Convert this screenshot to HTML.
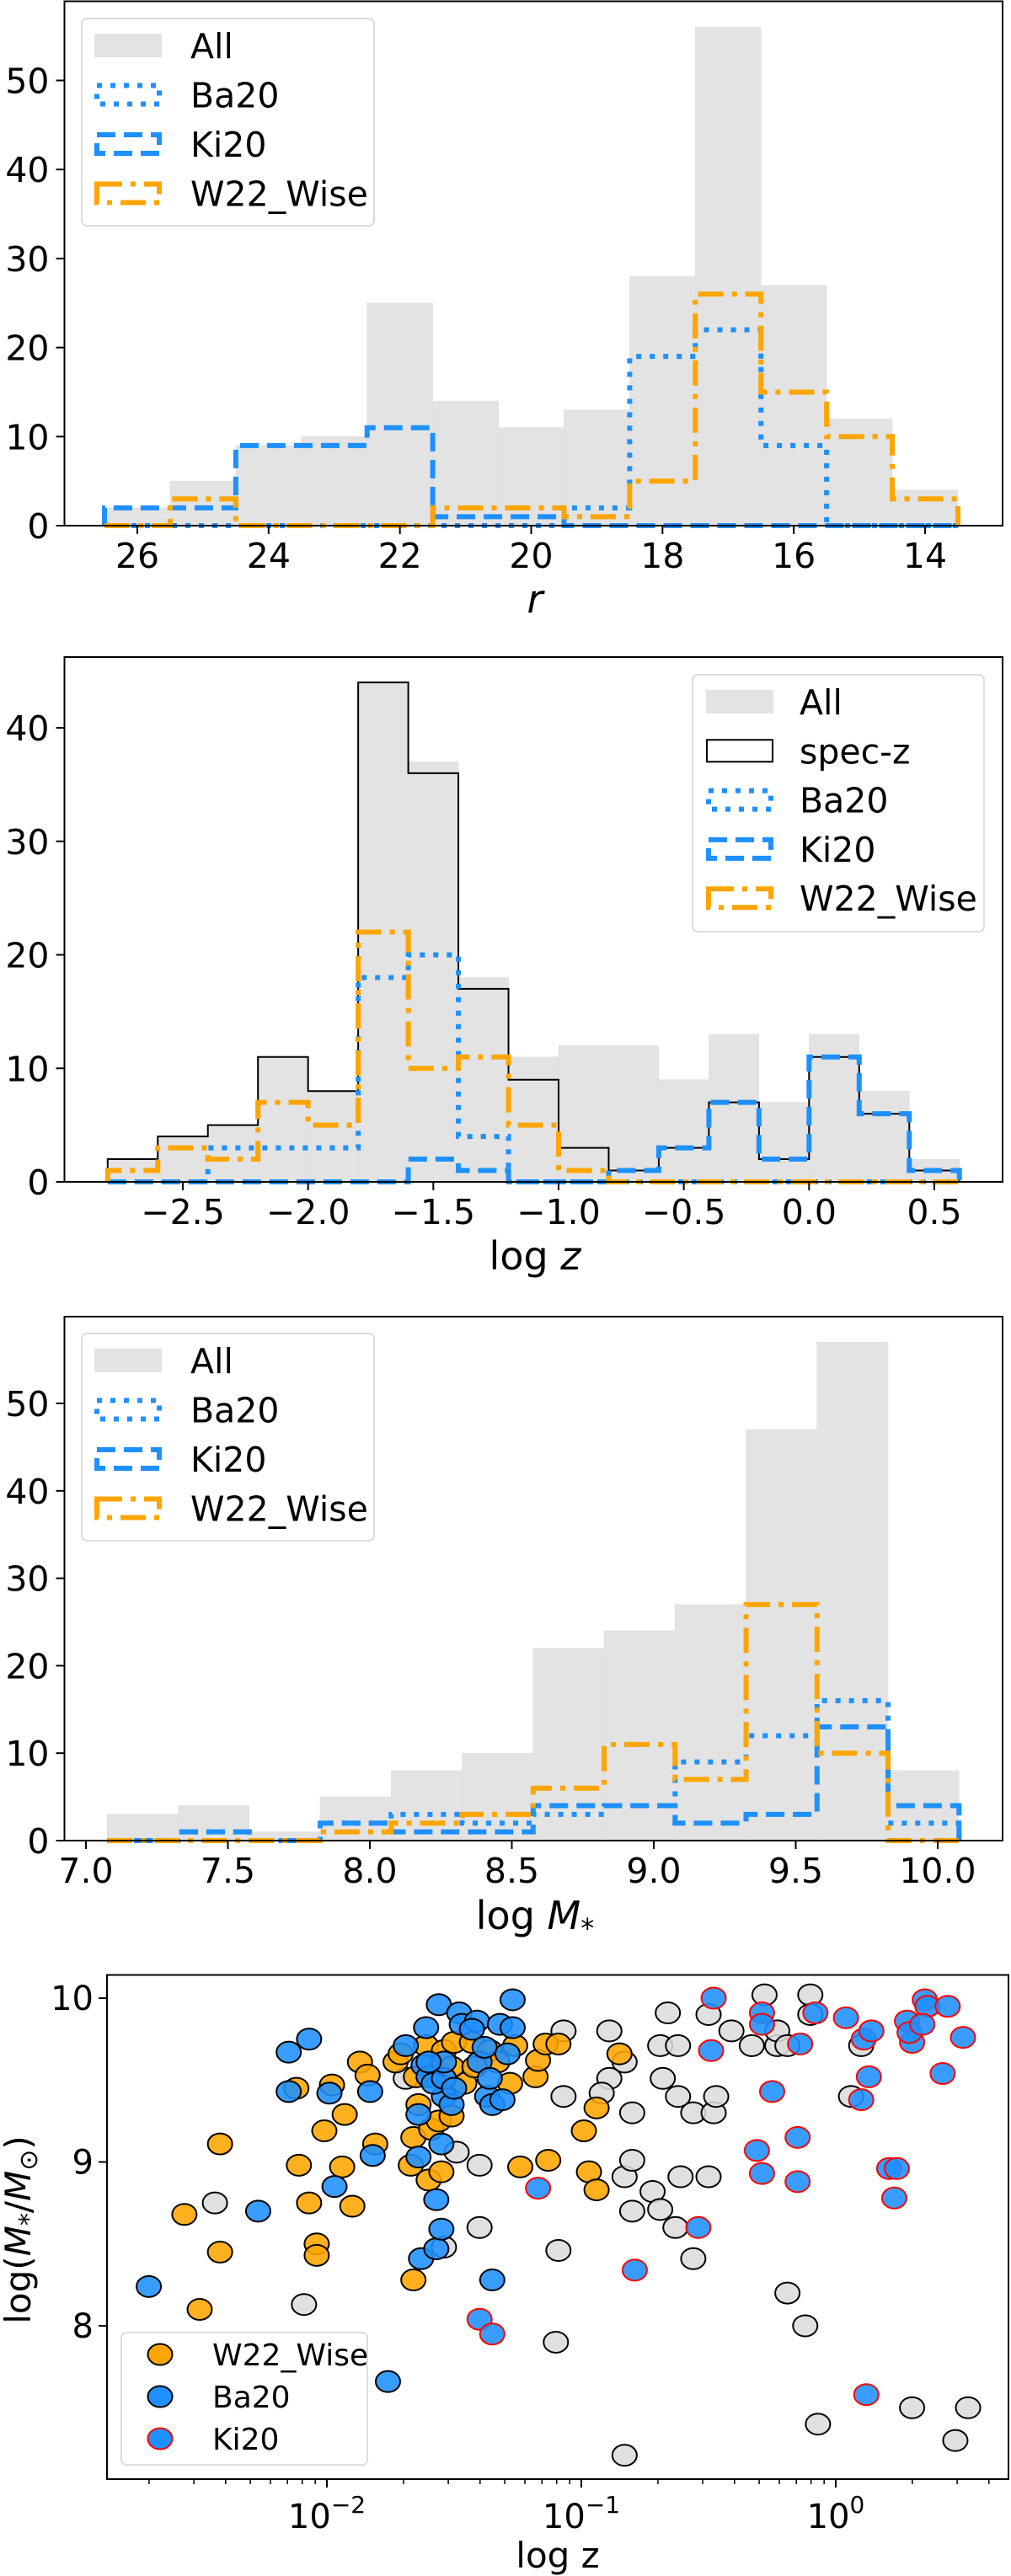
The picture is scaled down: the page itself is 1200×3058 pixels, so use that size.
<!DOCTYPE html>
<html><head><meta charset="utf-8"><title>Histograms and scatter</title>
<style>
html,body{margin:0;padding:0;background:#fff;}
svg{display:block;font-family:"DejaVu Sans","Liberation Sans",sans-serif;}
</style></head>
<body>
<svg id="fig" width="1200" height="3058" viewBox="0 0 1200 3058" xmlns="http://www.w3.org/2000/svg"></svg>
<script>
// ---------- Panel 1 data (r magnitude) ----------
const rEdges = [26.5,25.5,24.5,23.5,22.5,21.5,20.5,19.5,18.5,17.5,16.5,15.5,14.5,13.5];
const rAll   = [2,5,9,10,25,14,11,13,28,56,27,12,4];
const rBa20  = [0,0,0,0,0,0,0,2,19,22,9,0,0];
const rKi20  = [2,2,9,9,11,1,1,0,0,0,0,0,0];
const rW22   = [0,3,0,0,0,2,2,1,5,26,15,10,3];
const rXTicks = [26,24,22,20,18,16,14];
const rYTicks = [0,10,20,30,40,50];
// ---------- Panel 2 data (log z) ----------
const zEdges = [-2.8,-2.6,-2.4,-2.2,-2.0,-1.8,-1.6,-1.4,-1.2,-1.0,-0.8,-0.6,-0.4,-0.2,0.0,0.2,0.4,0.6];
const zAll   = [2,4,5,11,8,44,37,18,11,12,12,9,13,7,13,8,2];
const zSpec  = [2,4,5,11,8,44,36,17,9,3,1,3,7,2,11,6,1];
const zBa20  = [0,0,3,3,3,18,20,4,0,0,0,0,0,0,0,0,0];
const zKi20  = [0,0,0,0,0,0,2,1,0,0,1,3,7,2,11,6,1];
const zW22   = [1,3,2,7,5,22,10,11,5,1,0,0,0,0,0,0,0];
const zXTicks = [-2.5,-2.0,-1.5,-1.0,-0.5,0.0,0.5];
const zYTicks = [0,10,20,30,40];
// ---------- Panel 3 data (log M*) ----------
const mEdges = [7.075,7.325,7.575,7.825,8.075,8.325,8.575,8.825,9.075,9.325,9.575,9.825,10.075];
const mAll   = [3,4,1,5,8,10,22,24,27,47,57,8];
const mBa20  = [0,1,0,2,3,2,3,4,9,12,16,2];
const mKi20  = [0,1,0,2,1,1,4,4,2,3,13,4];
const mW22   = [0,0,0,1,2,3,6,11,7,27,10,0];
const mXTicks = [7.0,7.5,8.0,8.5,9.0,9.5,10.0];
const mYTicks = [0,10,20,30,40,50];
// ---------- Panel 4 data (log10 z, log M*) ----------
const grayLz = [-2.44,-2.09,-1.49,-1.54,-1.69,-1.40,-1.40,-1.09,-1.10,-1.07,-1.07,-0.89,-0.89,-0.83,-0.92,-0.80,-0.83,-0.80,-0.80,-0.72,-0.69,-0.63,-0.68,-0.69,-0.62,-0.62,-0.66,-0.56,-0.56,-0.61,-0.50,-0.50,-0.48,-0.47,-0.41,-0.33,-0.28,-0.23,-0.23,-0.19,-0.19,-0.12,-0.10,-0.07,-0.10,0.06,0.10,0.30,0.47,0.52,-0.83];
const grayM  = [8.75,8.13,9.06,8.48,9.51,8.98,8.60,8.46,7.90,9.80,9.40,9.80,9.51,9.61,9.42,9.30,8.91,9.01,8.70,8.82,8.71,8.60,9.51,9.71,9.71,9.40,9.91,9.30,8.41,8.91,8.91,9.90,9.30,9.40,9.80,9.71,10.02,9.71,9.80,8.20,9.71,8.00,10.02,7.40,9.90,9.40,9.71,7.50,7.30,7.50,7.21];
const w22Lz = [-2.56,-2.50,-2.42,-2.42,-2.12,-2.11,-2.07,-2.04,-2.04,-2.01,-1.98,-1.94,-1.93,-1.90,-1.87,-1.84,-1.81,-1.73,-1.67,-1.66,-1.66,-1.65,-1.61,-1.60,-1.59,-1.56,-1.55,-1.54,-1.51,-1.50,-1.46,-1.43,-1.36,-1.33,-1.28,-1.26,-1.24,-1.18,-1.17,-1.14,-1.13,-1.09,-0.99,-0.97,-0.94,-0.94,-0.85,-1.51,-1.71,-1.64,-1.42];
const w22M  = [8.68,8.10,9.11,8.45,9.45,8.98,8.75,8.50,8.43,9.19,9.47,8.97,9.29,8.73,9.61,9.53,9.11,9.61,8.98,8.28,9.15,9.52,9.71,8.89,9.20,9.25,8.94,9.68,9.28,9.73,9.48,9.73,9.68,9.61,9.48,9.71,8.97,9.52,9.62,9.72,9.01,9.72,9.19,8.94,9.33,8.83,9.66,9.58,9.66,9.35,9.58];
const baLz = [-2.70,-2.27,-2.15,-2.07,-2.15,-1.99,-1.97,-1.83,-1.82,-1.76,-1.69,-1.64,-1.64,-1.63,-1.61,-1.57,-1.57,-1.56,-1.55,-1.55,-1.54,-1.62,-1.60,-1.58,-1.54,-1.51,-1.48,-1.47,-1.41,-1.40,-1.38,-1.37,-1.35,-1.35,-1.32,-1.31,-1.29,-1.27,-1.27,-1.36,-1.54,-1.60,-1.50,-1.43];
const baM  = [8.24,8.70,9.67,9.75,9.43,9.42,8.85,9.43,9.04,7.66,9.71,9.29,9.03,8.41,9.82,8.77,8.47,9.96,9.11,8.59,9.40,9.59,9.52,9.48,9.51,9.35,9.91,9.84,9.86,9.61,9.70,9.40,9.35,8.28,9.84,9.38,9.66,9.99,9.82,9.51,9.61,9.61,9.45,9.81];
const kiLz = [-1.17,-1.40,-1.35,-0.79,-0.54,-0.48,-0.49,-0.31,-0.29,-0.29,-0.29,-0.25,-0.15,-0.15,-0.14,-0.08,0.04,0.10,0.11,0.13,0.14,0.12,0.21,0.24,0.23,0.28,0.30,0.29,0.35,0.36,0.42,0.44,0.50,0.34];
const kiM  = [8.84,8.04,7.95,8.34,8.60,10.00,9.68,9.07,8.93,9.91,9.84,9.43,9.15,8.88,9.72,9.91,9.88,9.38,9.75,9.52,9.80,7.58,8.96,8.96,8.78,9.86,9.73,9.79,9.99,9.95,9.54,9.95,9.76,9.84];
const sYTicks = [8,9,10];
const sXDecades = [-2,-1,0];

const NS = "http://www.w3.org/2000/svg";
const svg = document.getElementById('fig');
const BLUE = "#1E90FF", ORANGE = "#FFA500";
function lin(d0,d1,p0,p1){ return v => p0 + (v-d0)*(p1-p0)/(d1-d0); }
function el(tag, attrs, parent){
  const e = document.createElementNS(NS, tag);
  for (const k in attrs) e.setAttribute(k, attrs[k]);
  (parent||svg).appendChild(e);
  return e;
}
const STYLES = {
  ba: {stroke:BLUE, w:6, dash:"6 10"},
  ki: {stroke:BLUE, w:6, dash:"22 10"},
  w22:{stroke:ORANGE, w:6, dash:"30 10 6 10"},
  spec:{stroke:"#000", w:2, dash:"none"}
};
function stepPath(edges, vals, sx, sy){
  let d = `M${sx(edges[0])},${sy(0)}`;
  for (let i=0;i<vals.length;i++){
    d += ` L${sx(edges[i])},${sy(vals[i])} L${sx(edges[i+1])},${sy(vals[i])}`;
  }
  d += ` L${sx(edges[edges.length-1])},${sy(0)}`;
  return d;
}
function fmt(v, dec){ const s = v.toFixed(dec); return s.replace('-', '\u2212'); }

function histPanel(cfg){
  const g = el('g', {});
  
  
  const {sx, sy, box} = cfg;
  for (let i=0;i<cfg.all.length;i++){
    const x0 = sx(cfg.edges[i]), x1 = sx(cfg.edges[i+1]);
    const r = el('rect', {x:Math.min(x0,x1), y:sy(cfg.all[i]), width:Math.abs(x1-x0), height:sy(0)-sy(cfg.all[i]), fill:"#e3e3e3", stroke:"#dcdcdc", "stroke-width":0.5}, g);
    
    
  }
  for (const s of cfg.series){
    const st = STYLES[s.key];
    const p = el('path', {d:stepPath(cfg.edges, s.vals, sx, sy), fill:"none", stroke:st.stroke, "stroke-width":st.w, "stroke-dasharray":st.dash, "stroke-linejoin":"miter"}, g);
    
    
  }
  const f = el('rect', {x:box[0], y:box[1], width:box[2]-box[0], height:box[3]-box[1], fill:"none", stroke:"#000", "stroke-width":2}, g);
  
  
  for (const t of cfg.xticks){
    const x = sx(t);
    el('line', {x1:x, x2:x, y1:box[3], y2:box[3]+10, stroke:"#000", "stroke-width":2}, g);
    const tx = el('text', {x:x, y:box[3]+50, "text-anchor":"middle", "font-size":41}, g);
    tx.textContent = fmt(t, cfg.xdec);
    
    
  }
  for (const t of cfg.yticks){
    const y = sy(t);
    el('line', {x1:box[0]-10, x2:box[0], y1:y, y2:y, stroke:"#000", "stroke-width":2}, g);
    const ty = el('text', {x:box[0]-18, y:y+15, "text-anchor":"end", "font-size":41}, g);
    ty.textContent = String(t);
    
    
  }
  const L = cfg.legend;
  const lg = el('g', {}, g);
  
  
  el('rect', {x:L.x, y:L.y, width:L.w, height:L.h, rx:6, fill:"#fff", "fill-opacity":0.85, stroke:"#dddddd", "stroke-width":2}, lg);
  L.items.forEach((it, i) => {
    const cy = L.y0 + i*L.dy;
    if (it.key === 'all'){
      el('rect', {x:L.hx, y:cy-14, width:80, height:28, fill:"#e3e3e3"}, lg);
    } else {
      const st = STYLES[it.key];
      el('rect', {x:L.hx+st.w/2, y:cy-14+st.w/2, width:80-st.w, height:28-st.w, fill:"none", stroke:st.stroke, "stroke-width":st.w, "stroke-dasharray":st.dash}, lg);
    }
    const t = el('text', {x:L.tx, y:cy+15, "font-size":41}, lg);
    t.textContent = it.label;
    
    
  });
  const xl = el('text', {x:cfg.xlabel.x, y:cfg.xlabel.y, "text-anchor":"middle", "font-size":46}, g);
  xl.innerHTML = cfg.xlabel.html;
  
  
}

const legStd = (y0) => ({x:97, y:y0-32, w:347, h:246, hx:112, tx:226, y0:y0, dy:58.5,
  items:[{key:'all',label:'All'},{key:'ba',label:'Ba20'},{key:'ki',label:'Ki20'},{key:'w22',label:'W22_Wise'}]});

histPanel({name:'histogram-r', edges:rEdges, all:rAll,
  series:[{key:'ba',vals:rBa20},{key:'ki',vals:rKi20},{key:'w22',vals:rW22}],
  sx:lin(26,14,163,1098), sy:lin(0,50,624,95.5), box:[76.5,1.5,1190,624],
  xticks:rXTicks, xdec:0, yticks:rYTicks, legend:legStd(54),
  xlabel:{x:635, y:727, html:'<tspan font-style="italic">r</tspan>'}});

histPanel({name:'histogram-logz', edges:zEdges, all:zAll,
  series:[{key:'spec',vals:zSpec},{key:'ba',vals:zBa20},{key:'ki',vals:zKi20},{key:'w22',vals:zW22}],
  sx:lin(-2.5,0.5,217,1109), sy:lin(0,40,1403,864), box:[76.5,780,1190,1403],
  xticks:zXTicks, xdec:1, yticks:zYTicks,
  legend:{x:822, y:801, w:346, h:305, hx:838, tx:949, y0:833, dy:58.3,
    items:[{key:'all',label:'All'},{key:'spec',label:'spec-z'},{key:'ba',label:'Ba20'},{key:'ki',label:'Ki20'},{key:'w22',label:'W22_Wise'}]},
  xlabel:{x:635, y:1507, html:'log<tspan font-style="italic"> z</tspan>'}});

histPanel({name:'histogram-logm', edges:mEdges, all:mAll,
  series:[{key:'ba',vals:mBa20},{key:'ki',vals:mKi20},{key:'w22',vals:mW22}],
  sx:lin(7,10,102,1113), sy:lin(0,50,2185,1666), box:[76.5,1563,1190,2185],
  xticks:mXTicks, xdec:1, yticks:mYTicks, legend:legStd(1615),
  xlabel:{x:635, y:2290, html:'log<tspan font-style="italic"> M</tspan><tspan font-size="32" dy="10">*</tspan>'}});

(function(){
  const g = el('g', {});
  
  
  const sx = lin(-2,0,388,992), sy = lin(8,10,2761,2372);
  const box = [127,2344.5,1197,2943];
  function pts(lz, m, fill, stroke, name){
    for (let i=0;i<lz.length;i++){
      const c = el('ellipse', {cx:sx(lz[i]), cy:sy(m[i]), rx:14.5, ry:12.5, fill:fill, "fill-opacity":0.88, stroke:stroke, "stroke-width":2}, g);
      
      
    }
  }
  pts(grayLz, grayM, "#dcdcdc", "#000", 'point-all');
  pts(w22Lz, w22M, ORANGE, "#000", 'point-w22-wise');
  pts(baLz, baM, BLUE, "#000", 'point-ba20');
  pts(kiLz, kiM, BLUE, "#ff0000", 'point-ki20');
  const f = el('rect', {x:box[0], y:box[1], width:box[2]-box[0], height:box[3]-box[1], fill:"none", stroke:"#000", "stroke-width":2}, g);
  
  
  for (const t of sYTicks){
    const y = sy(t);
    el('line', {x1:box[0]-10, x2:box[0], y1:y, y2:y, stroke:"#000", "stroke-width":2}, g);
    const ty = el('text', {x:box[0]-16, y:y+14, "text-anchor":"end", "font-size":40}, g);
    ty.textContent = String(t);
    
    
  }
  for (const d of [-3,-2,-1,0]){
    for (let k=2;k<10;k++){
      const x = sx(d + Math.log10(k));
      if (x < box[0] || x > box[2]) continue;
      el('line', {x1:x, x2:x, y1:box[3], y2:box[3]+6, stroke:"#000", "stroke-width":1.5}, g);
    }
  }
  for (const d of sXDecades){
    const x = sx(d);
    el('line', {x1:x, x2:x, y1:box[3], y2:box[3]+10, stroke:"#000", "stroke-width":2}, g);
    const tx = el('text', {x:x, y:box[3]+58, "text-anchor":"middle", "font-size":40}, g);
    tx.innerHTML = '10<tspan font-size="28" dy="-18">' + String(d).replace('-', '\u2212') + '</tspan>';
    
    
  }
  const lg = el('g', {}, g);
  
  
  el('rect', {x:144, y:2769, width:292, height:157, rx:6, fill:"#fff", "fill-opacity":0.85, stroke:"#dddddd", "stroke-width":2}, lg);
  const items = [[ORANGE,"#000","W22_Wise"],[BLUE,"#000","Ba20"],[BLUE,"#ff0000","Ki20"]];
  items.forEach((it,i) => {
    const cy = 2795 + i*50;
    el('ellipse', {cx:190, cy:cy, rx:14.5, ry:12.5, fill:it[0], stroke:it[1], "stroke-width":2}, lg);
    const t = el('text', {x:252, y:cy+13, "font-size":36}, lg);
    t.textContent = it[2];
    
    
  });
  const xl = el('text', {x:662, y:3048, "text-anchor":"middle", "font-size":42}, g);
  xl.textContent = 'log z';
  
  
  const yl = el('text', {x:0, y:0, "text-anchor":"middle", "font-size":42, transform:"translate(36,2647) rotate(-90)"}, g);
  yl.innerHTML = 'log(<tspan font-style="italic">M</tspan><tspan font-size="30" dy="8">*</tspan><tspan dy="-8">/</tspan><tspan font-style="italic">M</tspan><tspan font-size="30" dy="8">\u2299</tspan><tspan dy="-8">)</tspan>';
  
  
})();
</script>
</body></html>
